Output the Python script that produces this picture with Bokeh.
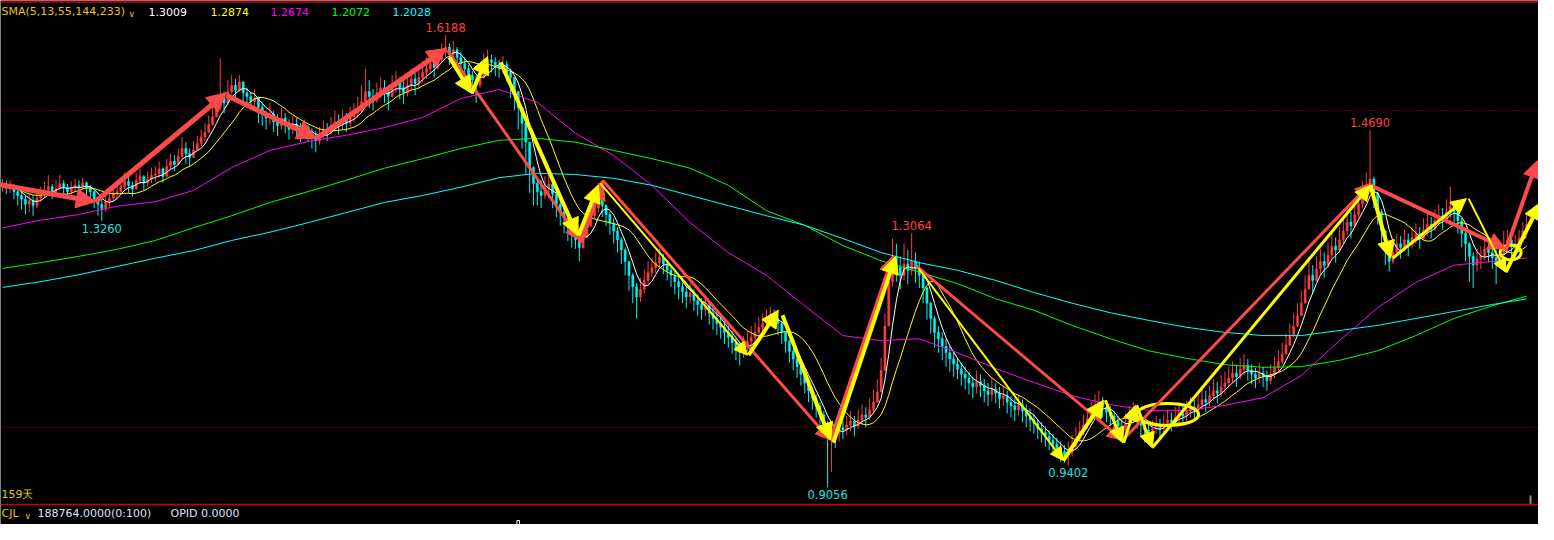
import pandas as pd
from bokeh.plotting import figure
from bokeh.models import ColumnDataSource, Range1d, Span, Label, Arrow, NormalHead
from bokeh.core.properties import value
from bokeh.embed import file_html
from bokeh.resources import INLINE

# ------------------------------------------------------------------ data
open_first = 1.380
close = [
 1.383,1.378,1.381,1.372,1.366,1.360,1.352,1.358,1.350,1.362,
 1.368,1.374,1.380,1.371,1.377,1.385,1.379,1.372,1.378,1.382,
 1.380,1.386,1.378,1.372,1.360,1.352,1.345,1.356,1.362,1.370,
 1.372,1.380,1.388,1.382,1.376,1.390,1.396,1.386,1.392,1.398,
 1.400,1.408,1.396,1.412,1.420,1.415,1.428,1.440,1.432,1.426,
 1.438,1.448,1.458,1.466,1.478,1.490,1.505,1.520,1.512,1.530,
 1.540,1.532,1.545,1.528,1.522,1.514,1.520,1.505,1.496,1.488,
 1.494,1.482,1.476,1.488,1.480,1.470,1.478,1.472,1.466,1.474,
 1.464,1.458,1.452,1.460,1.470,1.466,1.476,1.482,1.478,1.486,
 1.480,1.490,1.496,1.504,1.514,1.530,1.522,1.516,1.528,1.536,
 1.530,1.522,1.538,1.545,1.536,1.528,1.540,1.550,1.542,1.552,
 1.560,1.566,1.574,1.568,1.580,1.592,1.600,1.588,1.596,1.584,
 1.574,1.566,1.556,1.548,1.540,1.552,1.568,1.580,1.576,1.570,
 1.566,1.572,1.560,1.552,1.530,1.505,1.480,1.450,1.410,1.385,
 1.372,1.366,1.378,1.384,1.368,1.352,1.340,1.330,1.318,1.306,
 1.296,1.284,1.300,1.318,1.334,1.346,1.360,1.350,1.336,1.322,
 1.310,1.296,1.280,1.262,1.240,1.222,1.206,1.218,1.232,1.244,
 1.252,1.260,1.268,1.258,1.248,1.240,1.230,1.222,1.214,1.206,
 1.212,1.200,1.194,1.186,1.192,1.180,1.172,1.164,1.158,1.150,
 1.142,1.134,1.124,1.118,1.128,1.136,1.142,1.150,1.158,1.164,
 1.170,1.178,1.172,1.164,1.150,1.136,1.120,1.108,1.096,1.084,
 1.070,1.058,1.046,1.034,1.020,1.006,0.986,0.994,0.990,1.000,
 0.996,1.004,1.010,1.002,1.012,1.020,1.016,1.028,1.040,1.056,
 1.090,1.160,1.230,1.270,1.252,1.240,1.258,1.248,1.262,1.250,
 1.240,1.220,1.196,1.172,1.150,1.140,1.128,1.118,1.108,1.100,
 1.092,1.084,1.078,1.070,1.064,1.072,1.066,1.058,1.052,1.060,
 1.054,1.046,1.050,1.040,1.034,1.028,1.036,1.026,1.018,1.012,
 1.006,0.998,0.992,0.986,0.980,0.974,0.968,0.962,0.956,0.960,
 0.970,0.982,0.994,1.004,1.014,1.024,1.034,1.040,1.032,1.024,
 1.018,1.010,1.002,0.996,1.006,1.016,1.022,1.014,1.004,0.996,
 0.990,0.998,1.004,0.998,1.006,1.012,1.008,1.016,1.022,1.018,
 1.026,1.032,1.028,1.036,1.044,1.040,1.050,1.058,1.054,1.064,
 1.070,1.078,1.086,1.080,1.092,1.098,1.090,1.084,1.078,1.086,
 1.080,1.074,1.084,1.094,1.104,1.116,1.130,1.144,1.160,1.176,
 1.196,1.218,1.240,1.232,1.250,1.262,1.256,1.272,1.286,1.280,
 1.296,1.310,1.324,1.318,1.336,1.352,1.366,1.380,1.392,1.370,
 1.340,1.310,1.280,1.262,1.276,1.290,1.284,1.296,1.288,1.300,
 1.306,1.298,1.312,1.320,1.314,1.326,1.334,1.328,1.340,1.348,
 1.340,1.326,1.306,1.290,1.270,1.256,1.266,1.270,1.282,1.276,
 1.268,1.262,1.272,1.286,1.296,1.286,1.290,1.298,1.310,1.320,
]
high = [
 1.392,1.389,1.390,1.384,1.378,1.372,1.366,1.368,1.366,1.372,
 1.380,1.388,1.398,1.384,1.390,1.398,1.390,1.384,1.388,1.392,
 1.390,1.394,1.388,1.382,1.374,1.364,1.360,1.366,1.372,1.380,
 1.384,1.392,1.402,1.396,1.388,1.402,1.408,1.398,1.404,1.410,
 1.412,1.420,1.410,1.424,1.432,1.430,1.440,1.458,1.450,1.440,
 1.452,1.460,1.470,1.480,1.492,1.506,1.520,1.582,1.530,1.548,
 1.556,1.550,1.556,1.546,1.536,1.530,1.534,1.522,1.512,1.500,
 1.512,1.500,1.494,1.504,1.496,1.486,1.492,1.488,1.480,1.486,
 1.478,1.472,1.468,1.474,1.484,1.480,1.490,1.500,1.494,1.502,
 1.496,1.506,1.512,1.522,1.540,1.566,1.548,1.534,1.544,1.552,
 1.548,1.540,1.556,1.562,1.552,1.546,1.556,1.566,1.560,1.570,
 1.578,1.584,1.592,1.588,1.596,1.606,1.6188,1.606,1.610,1.600,
 1.592,1.584,1.572,1.562,1.556,1.574,1.590,1.596,1.588,1.584,
 1.580,1.586,1.578,1.566,1.552,1.526,1.505,1.476,1.440,1.412,
 1.394,1.390,1.396,1.404,1.392,1.372,1.360,1.350,1.338,1.326,
 1.318,1.304,1.318,1.336,1.350,1.362,1.386,1.372,1.352,1.340,
 1.330,1.316,1.300,1.284,1.262,1.244,1.228,1.236,1.250,1.262,
 1.268,1.276,1.282,1.274,1.264,1.256,1.246,1.238,1.232,1.224,
 1.228,1.218,1.210,1.204,1.208,1.198,1.190,1.182,1.176,1.168,
 1.160,1.152,1.142,1.136,1.144,1.152,1.160,1.166,1.174,1.180,
 1.186,1.190,1.186,1.178,1.168,1.152,1.138,1.124,1.112,1.100,
 1.088,1.076,1.064,1.052,1.040,1.026,1.010,1.002,1.004,1.012,
 1.010,1.018,1.026,1.018,1.028,1.036,1.032,1.046,1.060,1.076,
 1.110,1.180,1.260,1.298,1.290,1.270,1.290,1.280,1.3064,1.276,
 1.262,1.246,1.222,1.198,1.176,1.160,1.150,1.140,1.128,1.120,
 1.110,1.102,1.096,1.088,1.080,1.090,1.084,1.076,1.070,1.078,
 1.070,1.064,1.066,1.058,1.050,1.046,1.052,1.044,1.036,1.030,
 1.022,1.014,1.008,1.002,0.996,0.990,0.984,0.978,0.972,0.978,
 0.988,1.000,1.010,1.020,1.030,1.040,1.052,1.058,1.048,1.040,
 1.034,1.026,1.018,1.012,1.022,1.034,1.040,1.030,1.020,1.012,
 1.004,1.012,1.018,1.014,1.020,1.028,1.024,1.032,1.040,1.034,
 1.042,1.048,1.044,1.052,1.062,1.058,1.066,1.076,1.072,1.082,
 1.088,1.096,1.104,1.098,1.110,1.116,1.108,1.100,1.094,1.102,
 1.096,1.090,1.100,1.112,1.122,1.134,1.148,1.164,1.180,1.196,
 1.216,1.240,1.270,1.256,1.270,1.282,1.276,1.292,1.306,1.300,
 1.316,1.330,1.344,1.340,1.356,1.372,1.388,1.402,1.4690,1.396,
 1.372,1.344,1.312,1.290,1.296,1.306,1.302,1.312,1.306,1.316,
 1.322,1.316,1.330,1.338,1.332,1.344,1.352,1.346,1.360,1.380,
 1.358,1.346,1.330,1.310,1.292,1.276,1.282,1.286,1.298,1.292,
 1.286,1.280,1.290,1.310,1.312,1.300,1.304,1.312,1.324,1.336,
]
low = [
 1.372,1.368,1.370,1.360,1.350,1.344,1.336,1.340,1.334,1.346,
 1.356,1.362,1.368,1.360,1.366,1.374,1.368,1.362,1.368,1.372,
 1.370,1.376,1.366,1.360,1.346,1.334,1.3260,1.340,1.348,1.356,
 1.360,1.368,1.376,1.370,1.364,1.376,1.384,1.374,1.380,1.386,
 1.388,1.394,1.386,1.398,1.406,1.404,1.414,1.424,1.416,1.412,
 1.426,1.436,1.444,1.452,1.464,1.476,1.490,1.500,1.496,1.508,
 1.526,1.520,1.530,1.514,1.506,1.500,1.504,1.480,1.476,1.470,
 1.478,1.466,1.460,1.470,1.464,1.454,1.462,1.458,1.450,1.458,
 1.450,1.440,1.434,1.446,1.456,1.452,1.462,1.466,1.462,1.470,
 1.466,1.474,1.482,1.488,1.498,1.510,1.504,1.500,1.512,1.520,
 1.512,1.500,1.520,1.528,1.518,1.510,1.522,1.532,1.524,1.534,
 1.544,1.550,1.558,1.552,1.564,1.576,1.584,1.572,1.580,1.566,
 1.560,1.552,1.540,1.530,1.512,1.536,1.550,1.562,1.560,1.554,
 1.552,1.558,1.546,1.520,1.500,1.470,1.440,1.400,1.370,1.350,
 1.350,1.346,1.360,1.362,1.346,1.332,1.318,1.306,1.294,1.284,
 1.282,1.262,1.282,1.298,1.316,1.330,1.340,1.332,1.318,1.304,
 1.290,1.276,1.258,1.240,1.216,1.196,1.172,1.198,1.212,1.226,
 1.238,1.244,1.252,1.242,1.232,1.222,1.210,1.202,1.196,1.188,
 1.196,1.184,1.176,1.170,1.176,1.162,1.154,1.146,1.140,1.132,
 1.126,1.116,1.106,1.098,1.110,1.120,1.126,1.134,1.142,1.148,
 1.154,1.162,1.158,1.146,1.132,1.118,1.102,1.090,1.078,1.066,
 1.054,1.040,1.028,1.016,1.000,0.984,0.9056,0.930,0.968,0.978,
 0.982,0.988,0.994,0.986,0.998,1.004,1.000,1.012,1.024,1.040,
 1.060,1.090,1.160,1.222,1.230,1.218,1.232,1.226,1.240,1.228,
 1.220,1.196,1.170,1.148,1.126,1.118,1.106,1.096,1.088,1.080,
 1.076,1.066,1.060,1.052,1.046,1.054,1.048,1.040,1.034,1.042,
 1.038,1.030,1.034,1.022,1.016,1.010,1.018,1.008,1.000,0.994,
 0.990,0.982,0.976,0.970,0.964,0.958,0.952,0.946,0.944,0.9402,
 0.954,0.966,0.978,0.988,0.998,1.008,1.018,1.024,1.016,1.008,
 1.002,0.994,0.986,0.980,0.990,1.000,1.006,0.998,0.986,0.976,
 0.976,0.984,0.990,0.984,0.992,0.998,0.994,1.002,1.006,1.004,
 1.010,1.016,1.012,1.020,1.028,1.024,1.034,1.042,1.038,1.048,
 1.054,1.062,1.070,1.064,1.076,1.082,1.074,1.068,1.062,1.070,
 1.064,1.058,1.068,1.078,1.088,1.100,1.114,1.128,1.144,1.158,
 1.176,1.198,1.220,1.212,1.230,1.242,1.236,1.252,1.266,1.260,
 1.276,1.290,1.304,1.298,1.316,1.332,1.346,1.360,1.368,1.346,
 1.320,1.290,1.256,1.246,1.258,1.272,1.266,1.278,1.270,1.282,
 1.290,1.282,1.296,1.302,1.298,1.310,1.318,1.312,1.322,1.330,
 1.322,1.306,1.284,1.262,1.230,1.220,1.246,1.250,1.264,1.260,
 1.250,1.226,1.254,1.266,1.278,1.268,1.274,1.282,1.292,1.304,
]

# long moving averages every 10 bars
ma_idx = list(range(0, 400, 10)) + [399]
ma55 = [1.315,1.327,1.336,1.349,1.356,1.374,1.410,1.437,1.451,1.461,1.473,1.489,1.519,1.533,
        1.513,1.464,1.429,1.382,1.323,1.276,1.240,1.192,1.145,1.137,1.140,1.118,1.093,1.071,
        1.050,1.036,1.027,1.027,1.035,1.047,1.082,1.137,1.189,1.229,1.256,1.262,1.2674]
ma144 = [1.251,1.260,1.270,1.281,1.295,1.315,1.334,1.355,1.372,1.390,1.409,1.424,1.440,1.453,
         1.456,1.450,1.437,1.424,1.409,1.382,1.342,1.319,1.287,1.263,1.245,1.227,1.203,1.185,
         1.161,1.140,1.121,1.109,1.099,1.095,1.096,1.106,1.121,1.145,1.172,1.192,1.2072]
ma233 = [1.221,1.230,1.241,1.254,1.267,1.279,1.295,1.308,1.323,1.339,1.355,1.366,1.379,1.394,
         1.401,1.399,1.393,1.382,1.366,1.350,1.334,1.319,1.298,1.276,1.260,1.248,1.232,1.213,
         1.196,1.181,1.169,1.158,1.150,1.145,1.145,1.153,1.161,1.172,1.183,1.194,1.2028]

legend_name = "SMA(5,13,55,144,233)"
legend_vals = ["1.3009", "1.2874", "1.2674", "1.2072", "1.2028"]

peak_idx = [116, 238, 358]
trough_idx = [26, 216, 279]

# hand-drawn wave arrows: (bar from, price from, bar to, price to)
red_waves = [(-0.52,1.383,24.3,1.356),(24.3,1.356,58.6,1.528),(58.6,1.524,82.2,1.456),
             (82.2,1.456,116.2,1.598),(116.5,1.595,151.3,1.295),(151.3,1.292,157.1,1.390),
             (157.1,1.390,216.8,0.980),(216.8,0.980,233.2,1.271),(239.0,1.256,293.2,0.980),
             (293.2,0.980,358.1,1.385),(358.1,1.382,393.5,1.282),(393.5,1.279,401.8,1.421)]
yellow_waves = [(117.0,1.584,122.8,1.527),(122.8,1.527,127.0,1.585),(130.4,1.576,150.5,1.303),
                (150.8,1.303,156.0,1.382),(156.5,1.385,195.0,1.114),(195.3,1.114,203.1,1.185),
                (204.2,1.177,216.8,0.980),(217.5,0.976,233.8,1.270),(239.8,1.251,277.7,0.948),
                (277.7,0.948,288.2,1.043),(288.7,1.043,293.2,0.976),(293.5,0.976,296.6,1.035),
                (296.9,1.035,301.0,0.968),(301.0,0.968,358.1,1.382),(358.1,1.382,363.4,1.267),
                (363.9,1.267,383.2,1.361),(383.8,1.361,393.5,1.245),(393.5,1.245,402.6,1.355)]
ellipse_idx = [305.0, 394.8]
ellipse_price = [1.0205, 1.276]

vol_idx = [135, 242, 391, 392, 393, 394, 395]
vol_val = [139000, 70000, 56000, 98000, 56000, 35000, 112000]

days_text = "159天"
cjl_name = "CJL"
cjl_value = "188764.0000(0:100)"
opid_text = "OPID 0.0000"

# ------------------------------------------------------------------ layout / style
W, H = 1538, 524                 # figure size; 1 px = 1 px of the reference
BAR0_PX, BAR_PX = 2.0, 3.82
Y1_PX, PX_PER_UNIT = 427.0, 634.0
def idx_at(px): return (px - BAR0_PX) / BAR_PX
def price_at(py): return 1.0 + (Y1_PX - py) / PX_PER_UNIT
def sx(rx): return rx
def sy(ry): return H - ry

UP, DN = "#ff3c3c", "#00f4f4"
ARROW_RED, ARROW_YEL = "#ff4a4a", "#ffff00"
FONT = "DejaVu Sans"
red_widths = [5,5,5,5,3,5,3,4,3,3,4,4]
yellow_widths = [4,4,4,4,2,4,4,4,2,4,3,3,3,3,4,3,2,4]
ellipse_w = [62, 21]
ellipse_h = [22, 15]
vol_fill = ["#000000", DN, DN, UP, UP, UP, DN]
vol_line = ["#ffffff", DN, DN, UP, UP, UP, DN]

VOL_PX = 230000 / 33.0           # volume per pixel in the lower panel
VOL_BASE_PX = 540                # zero line of the volume panel
p = figure(width=W, height=H, output_backend="svg", toolbar_location=None,
           x_range=Range1d(idx_at(0), idx_at(W)),
           y_range=Range1d(price_at(H), price_at(0)),
           x_axis_location=None, y_axis_location=None, min_border=0,
           background_fill_color="black", border_fill_color="black",
           outline_line_color=None)
p.extra_y_ranges = {"vol": Range1d((VOL_BASE_PX - H) * VOL_PX, VOL_BASE_PX * VOL_PX)}
p.grid.visible = False

# frame lines
for lv in [1.0, 1.5]:
    p.add_layout(Span(location=lv, dimension="width", line_color="#a00000",
                      line_width=1, line_dash="1 2"))
p.add_layout(Span(location=price_at(1.5), dimension="width", line_color="#d00000", line_width=1.5))
p.add_layout(Span(location=price_at(504), dimension="width", line_color="#d00000", line_width=1.5))

# candles
n = len(close)
opens = [open_first] + close[:-1]
idx = list(range(n))
colors = [UP if c >= o else DN for o, c in zip(opens, close)]
src = ColumnDataSource(dict(x=idx, o=opens, c=close, h=high, l=low,
                            top=[max(o, c) for o, c in zip(opens, close)],
                            bot=[min(o, c) for o, c in zip(opens, close)], col=colors))
p.segment(x0="x", y0="l", x1="x", y1="h", source=src, line_color="col", line_width=1)
p.vbar(x="x", top="top", bottom="bot", width=0.55, source=src,
       fill_color="col", line_color="col", line_width=0.5)

# moving averages
cs = pd.Series(close)
ma5 = cs.rolling(5, min_periods=1).mean()
ma13 = cs.rolling(13, min_periods=1).mean()
p.line(idx, ma13, line_color="#ffff00", line_width=1)
p.line(idx, ma5, line_color="#ffffff", line_width=1)
p.line(ma_idx, ma55, line_color="#ff00ff", line_width=1)
p.line(ma_idx, ma144, line_color="#00ff00", line_width=1)
p.line(ma_idx, ma233, line_color="#00ffff", line_width=1)

# volume panel
p.vbar(x=vol_idx, top=vol_val, bottom=0, width=0.7, y_range_name="vol",
       fill_color=vol_fill, line_color=vol_line)
p.segment(x0=[n], y0=[price_at(495)], x1=[n], y1=[price_at(504)],
          line_color="#909090", line_width=2)

# wave arrows
def add_arrows(waves, widths, color):
    for (x0, y0, x1, y1), w in zip(waves, widths):
        head = NormalHead(size=9 + 2 * w, fill_color=color, line_color=color, line_width=1)
        p.add_layout(Arrow(end=head, x_start=x0, y_start=y0, x_end=x1, y_end=y1,
                           line_color=color, line_width=w))
add_arrows(red_waves, red_widths, ARROW_RED)
add_arrows(yellow_waves, yellow_widths, ARROW_YEL)
p.ellipse(x=ellipse_idx, y=ellipse_price, width=ellipse_w, height=ellipse_h,
          width_units="screen", height_units="screen", fill_alpha=0,
          line_color=ARROW_YEL, line_width=3)

# extreme labels
hi_src = ColumnDataSource(dict(x=peak_idx, y=[high[i] for i in peak_idx],
                               t=[f"{high[i]:.4f}" for i in peak_idx]))
lo_src = ColumnDataSource(dict(x=trough_idx, y=[low[i] for i in trough_idx],
                               t=[f"{low[i]:.4f}" for i in trough_idx]))
p.text(x="x", y="y", text="t", source=hi_src, text_color="#ff4040",
       text_font=value(FONT), text_font_size="11.5px", text_align="center",
       text_baseline="bottom", y_offset=-3)
p.text(x="x", y="y", text="t", source=lo_src, text_color="#20e0e0",
       text_font=value(FONT), text_font_size="11.5px", text_align="center",
       text_baseline="top", y_offset=3)

# header / footer texts
def lab(rx, ry, text, color, size="11px"):
    p.add_layout(Label(x=sx(rx), y=sy(ry), x_units="screen", y_units="screen", text=text,
                       text_color=color, text_font=FONT, text_font_size=size,
                       text_align="left", text_baseline="middle"))
lab(1, 11, legend_name, "#e6c21a")
lab(128, 13, "∨", "#e6c21a", "9px")
for x_px, v, c in zip([148, 210, 270, 331, 392], legend_vals,
                      ["#ffffff", "#ffff00", "#ff00ff", "#00ff00", "#00ffff"]):
    lab(x_px, 11, v, c)
lab(1, 494, days_text, "#dcd000")
lab(1, 513, cjl_name, "#e6c21a")
lab(24, 515, "∨", "#e6c21a", "9px")
lab(37, 513, cjl_value, "#dde0ff")
lab(170, 513, opid_text, "#dde0ff")

open("out.html", "w").write(file_html(p, INLINE))
